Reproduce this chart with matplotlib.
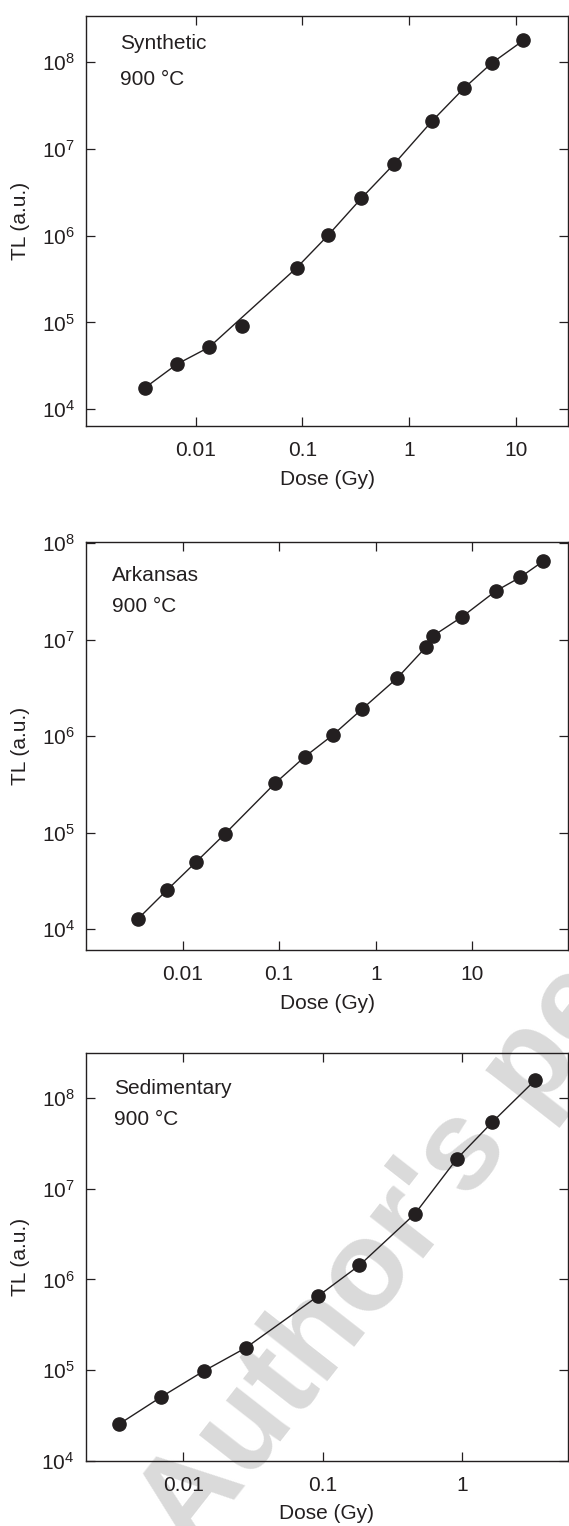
import numpy as np
import matplotlib
matplotlib.use('Agg')
import matplotlib.pyplot as plt
from matplotlib.ticker import FixedLocator, FixedFormatter, LogFormatterSciNotation, NullLocator

plt.rcParams['font.family'] = ['Liberation Sans', 'DejaVu Sans']
plt.rcParams['mathtext.default'] = 'regular'

# Synthetic, 900 C
syn_dose = [0.00334, 0.00667, 0.0134, 0.0269, 0.088, 0.175, 0.356, 0.721, 1.62, 3.25, 5.89, 11.7]
syn_tl = [1.76e4, 3.3e4, 5.19e4, 9.1e4, 4.25e5, 1.02e6, 2.7e6, 6.7e6, 2.07e7, 5.0e7, 9.7e7, 1.78e8]
syn_off_curve = 3   # the 0.027 Gy point is not on the drawn curve

# Arkansas, 900 C
ark_dose = [0.00342, 0.00684, 0.01365, 0.0275, 0.0906, 0.184, 0.361, 0.727, 1.66, 3.30, 3.89,
            7.85, 17.5, 31.3, 54.5]
ark_tl = [1.26e4, 2.51e4, 4.9e4, 9.7e4, 3.24e5, 6.1e5, 1.03e6, 1.92e6, 3.98e6, 8.35e6, 1.09e7,
          1.73e7, 3.2e7, 4.44e7, 6.55e7]

# Sedimentary, 900 C
sed_dose = [0.00347, 0.00698, 0.0140, 0.0280, 0.0916, 0.183, 0.457, 0.909, 1.64, 3.31]
sed_tl = [2.52e4, 5.05e4, 9.7e4, 1.75e5, 6.47e5, 1.43e6, 5.3e6, 2.13e7, 5.47e7, 1.58e8]

dose_ticks = [0.01, 0.1, 1, 10]
dose_labels = ['0.01', '0.1', '1', '10']
tl_ticks = [1e4, 1e5, 1e6, 1e7, 1e8]

ink = '#231f20'
W, H = 569, 1526
fig = plt.figure(figsize=(W / 100, H / 100), dpi=100)

panels = [
    # name, dose, tl, xlim, ylim, box in px (left, top, right, bottom), label y, label x
    ('Synthetic', syn_dose, syn_tl, (0.00094, 30.6), (6.4e3, 3.4e8), (86, 16, 568, 426), (0.934, 0.846), 0.07),
    ('Arkansas', ark_dose, ark_tl, (0.001, 98), (6.05e3, 1.04e8), (86, 541.7, 568, 950), (0.916, 0.841), 0.053),
    ('Sedimentary', sed_dose, sed_tl, (0.002, 5.7), (1e4, 3.2e8), (85.6, 1052.5, 568, 1460.5), (0.912, 0.835), 0.058),
]

for name, dose, tl, xl, yl, box, ty, tx in panels:
    l, t, r, b = box
    ax = fig.add_axes([l / W, 1 - b / H, (r - l) / W, (b - t) / H])
    ax.set_facecolor('none')
    ax.set_xscale('log')
    ax.set_yscale('log')

    if name == 'Synthetic':
        keep = [i for i in range(len(dose)) if i != syn_off_curve]
        ax.plot([dose[i] for i in keep], [tl[i] for i in keep], '-', color=ink, lw=1.0, zorder=2)
    else:
        ax.plot(dose, tl, '-', color=ink, lw=1.0, zorder=2)
    ax.plot(dose, tl, 'o', color=ink, ms=9.5, mec=ink, zorder=3)

    ax.set_xlim(*xl)
    ax.set_ylim(*yl)

    xt = [d for d in dose_ticks if xl[0] <= d <= xl[1]]
    ax.xaxis.set_major_locator(FixedLocator(xt))
    ax.xaxis.set_major_formatter(FixedFormatter([dose_labels[dose_ticks.index(d)] for d in xt]))
    ax.xaxis.set_minor_locator(NullLocator())
    ax.yaxis.set_major_locator(FixedLocator(tl_ticks))
    ax.yaxis.set_major_formatter(LogFormatterSciNotation())
    ax.yaxis.set_minor_locator(NullLocator())

    ax.tick_params(which='major', direction='in', length=6.5, width=0.9, color=ink,
                   top=True, right=True, labelsize=15, labelcolor=ink)
    ax.tick_params(axis='x', pad=11)
    ax.tick_params(axis='y', pad=8)
    for s in ax.spines.values():
        s.set_linewidth(1.0)
        s.set_color(ink)

    ax.set_xlabel('Dose (Gy)', fontsize=15, color=ink, va='center')
    ax.set_ylabel('TL (a.u.)', fontsize=15, color=ink, va='center')
    ax.xaxis.set_label_coords(0.5, -0.13)
    ax.yaxis.set_label_coords(-0.135, 0.5)

    ax.text(tx, ty[0], name, transform=ax.transAxes, fontsize=15, color=ink, va='center', ha='left')
    ax.text(tx, ty[1], '900 \u00b0C', transform=ax.transAxes, fontsize=15, color=ink, va='center', ha='left')

# faint publisher watermark behind the plots
fig.text(192 / W, 1 - 1555 / H, "Author's personal copy", rotation=52, rotation_mode='anchor',
         ha='left', va='baseline', fontsize=92, fontweight='bold', color='#dadada', zorder=-1)

fig.savefig('out.png', dpi=100, facecolor='white')
